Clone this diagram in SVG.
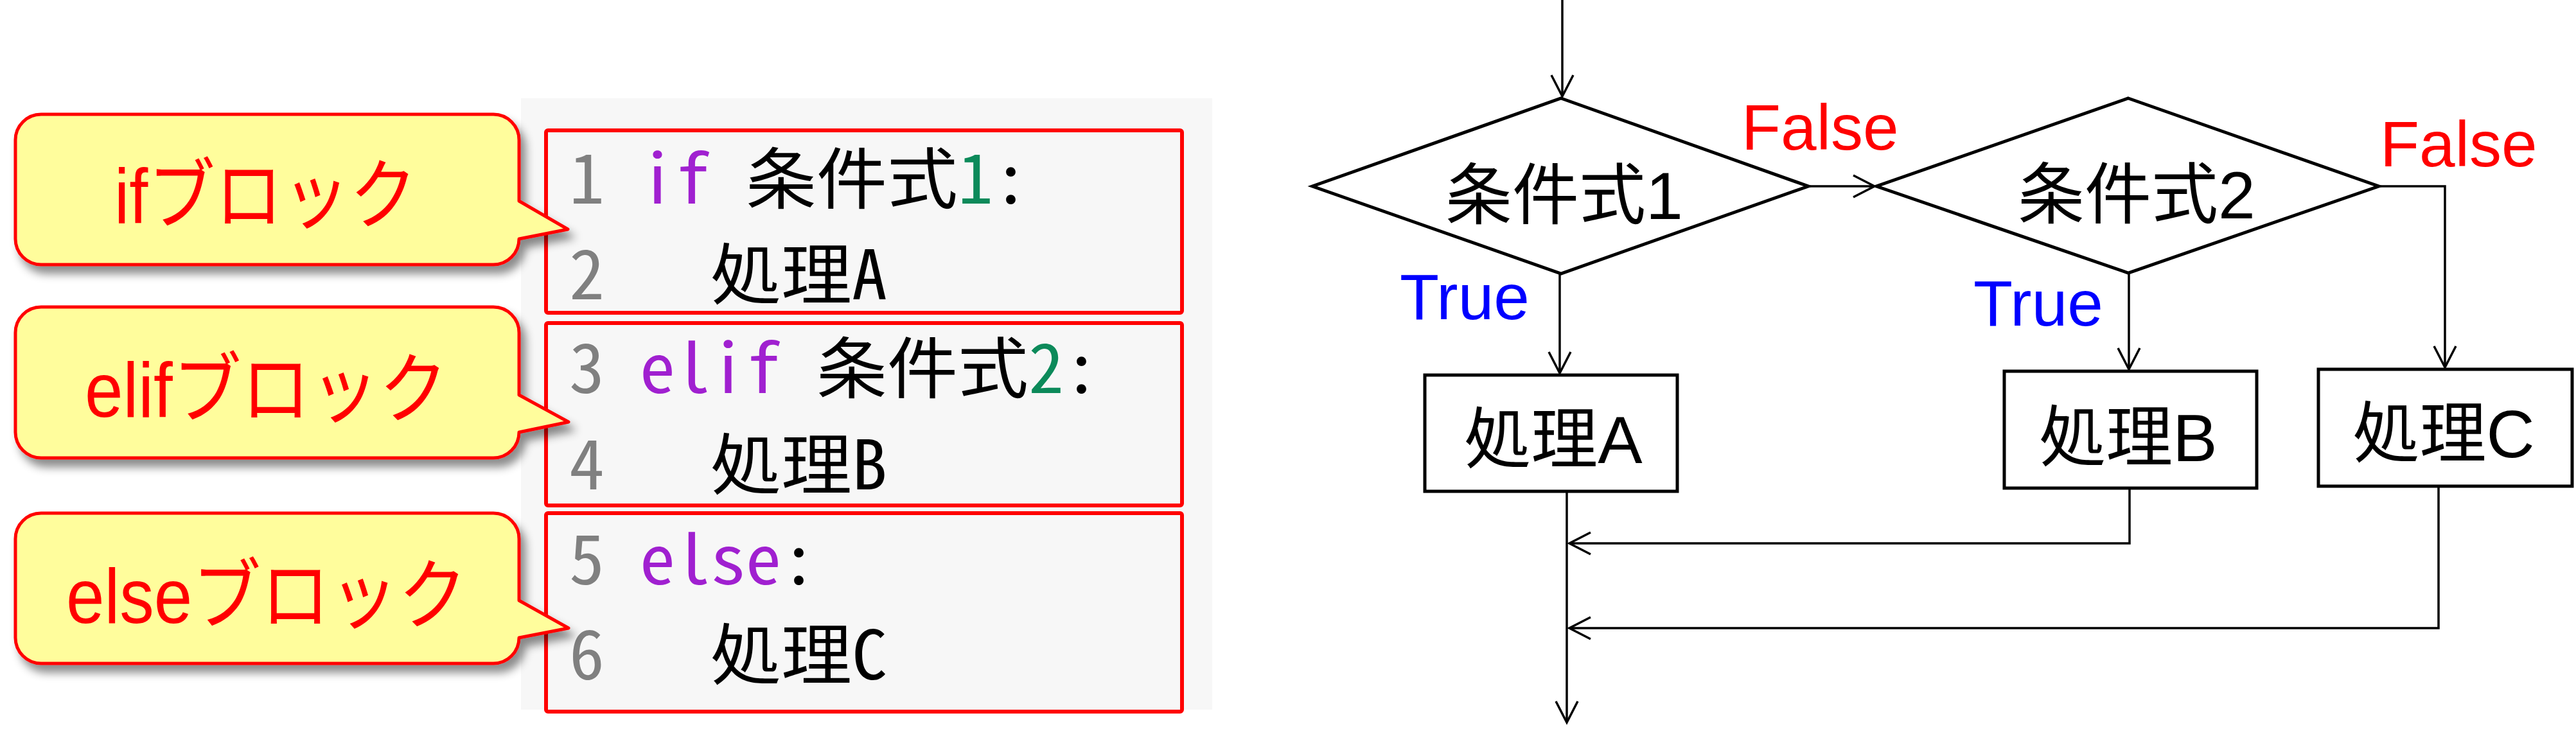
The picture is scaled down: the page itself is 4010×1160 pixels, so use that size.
<svg xmlns="http://www.w3.org/2000/svg" width="4010" height="1160" viewBox="0 0 4010 1160">
<defs>
<style>
.callout{fill:#FFFD9C;stroke:#FF0000;stroke-width:5;stroke-linejoin:round;filter:url(#shadow)}
.ctext{font-family:"Liberation Sans","Noto Sans CJK JP",sans-serif;font-size:120px;fill:#FF0000}
.panel{fill:#F7F7F7}
.cbox{fill:none;stroke:#FF0000;stroke-width:6}
.mono{font-family:"Noto Sans Mono CJK JP","DejaVu Sans Mono",monospace;font-size:106px}
.cj{font-family:"Noto Sans Mono CJK JP","Noto Sans CJK JP",sans-serif;font-size:104px;fill:#000}
.ln{fill:#808080}
.kw{fill:#A020D0}
.num{fill:#0C8A5A}
.blk{fill:#000}
.shape{fill:#FFFFFF;stroke:#000;stroke-width:5}
.ftext{font-family:"Liberation Sans","Noto Sans CJK JP",sans-serif;font-size:104px;fill:#000;text-anchor:middle}
.lbl{font-family:"Liberation Sans",sans-serif;font-size:100px}
.f{fill:#FF0000}
.t{fill:#0000FF}
.conn{fill:none;stroke:#000;stroke-width:3.5;marker-end:url(#arr)}
</style>
<filter id="shadow" x="-10%" y="-10%" width="130%" height="140%">
<feDropShadow dx="8" dy="12" stdDeviation="7" flood-color="#000" flood-opacity="0.45"/>
</filter>
<marker id="arr" markerUnits="userSpaceOnUse" markerWidth="40" markerHeight="40" viewBox="0 0 40 40" refX="36" refY="20" orient="auto">
<path d="M3,3 L36,20 L3,37" fill="none" stroke="#000" stroke-width="3.5"/>
</marker>
</defs>
<rect width="4010" height="1160" fill="#FFFFFF"/>

<!-- code panel -->
<g id="code">
<rect class="panel" x="811" y="153" width="1076" height="952"/>
<text class="mono ln" x="886" y="317" textLength="55" lengthAdjust="spacingAndGlyphs">1</text>
<text class="mono kw" x="996" y="317" textLength="110" lengthAdjust="spacingAndGlyphs">if</text>
<text class="cj" x="1161" y="317" textLength="330" lengthAdjust="spacingAndGlyphs">条件式</text>
<text class="mono num" x="1491" y="317" textLength="55" lengthAdjust="spacingAndGlyphs">1</text>
<text class="mono blk" x="1546" y="317" textLength="55" lengthAdjust="spacingAndGlyphs">:</text>

<text class="mono ln" x="886" y="466" textLength="55" lengthAdjust="spacingAndGlyphs">2</text>
<text class="cj" x="1106" y="466" textLength="220" lengthAdjust="spacingAndGlyphs">処理</text>
<text class="mono blk" x="1326" y="466" textLength="55" lengthAdjust="spacingAndGlyphs">A</text>

<text class="mono ln" x="886" y="612" textLength="55" lengthAdjust="spacingAndGlyphs">3</text>
<text class="mono kw" x="996" y="612" textLength="220" lengthAdjust="spacingAndGlyphs">elif</text>
<text class="cj" x="1271" y="612" textLength="330" lengthAdjust="spacingAndGlyphs">条件式</text>
<text class="mono num" x="1601" y="612" textLength="55" lengthAdjust="spacingAndGlyphs">2</text>
<text class="mono blk" x="1656" y="612" textLength="55" lengthAdjust="spacingAndGlyphs">:</text>

<text class="mono ln" x="886" y="762" textLength="55" lengthAdjust="spacingAndGlyphs">4</text>
<text class="cj" x="1106" y="762" textLength="220" lengthAdjust="spacingAndGlyphs">処理</text>
<text class="mono blk" x="1326" y="762" textLength="55" lengthAdjust="spacingAndGlyphs">B</text>

<text class="mono ln" x="886" y="910" textLength="55" lengthAdjust="spacingAndGlyphs">5</text>
<text class="mono kw" x="996" y="910" textLength="220" lengthAdjust="spacingAndGlyphs">else</text>
<text class="mono blk" x="1216" y="910" textLength="55" lengthAdjust="spacingAndGlyphs">:</text>

<text class="mono ln" x="886" y="1058" textLength="55" lengthAdjust="spacingAndGlyphs">6</text>
<text class="cj" x="1106" y="1058" textLength="220" lengthAdjust="spacingAndGlyphs">処理</text>
<text class="mono blk" x="1326" y="1058" textLength="55" lengthAdjust="spacingAndGlyphs">C</text>

<rect class="cbox" x="850" y="203" width="990" height="284" rx="3"/>
<rect class="cbox" x="850" y="503" width="990" height="284" rx="3"/>
<rect class="cbox" x="850" y="799" width="990" height="309" rx="3"/>
</g>

<!-- callouts (drawn above the code panel so their pointers overlap it) -->
<g id="callout-if">
<path class="callout" d="M64,178 H768 A40,40 0 0 1 808,218 V313 L884,357 L808,372 A40,40 0 0 1 768,412 H64 A40,40 0 0 1 24,372 V218 A40,40 0 0 1 64,178 Z"/>
<text class="ctext" x="178" y="347" textLength="471" lengthAdjust="spacingAndGlyphs">ifブロック</text>
</g>
<g id="callout-elif">
<path class="callout" d="M64,478 H768 A40,40 0 0 1 808,518 V615 L885,657 L808,673 A40,40 0 0 1 768,713 H64 A40,40 0 0 1 24,673 V518 A40,40 0 0 1 64,478 Z"/>
<text class="ctext" x="132" y="649" textLength="565" lengthAdjust="spacingAndGlyphs">elifブロック</text>
</g>
<g id="callout-else">
<path class="callout" d="M64,799 H768 A40,40 0 0 1 808,839 V935 L885,978 L808,993 A40,40 0 0 1 768,1033 H64 A40,40 0 0 1 24,993 V839 A40,40 0 0 1 64,799 Z"/>
<text class="ctext" x="103" y="970" textLength="624" lengthAdjust="spacingAndGlyphs">elseブロック</text>
</g>

<!-- flowchart nodes -->
<g id="cond1">
<polygon class="shape" points="2430,153 2815,290 2430,426 2043,290"/>
<text class="ftext" x="2435" y="341">条件式1</text>
</g>
<g id="cond2">
<polygon class="shape" points="3313,153 3703,290 3313,425 2921,290"/>
<text class="ftext" x="3326" y="340">条件式2</text>
</g>
<g id="procA">
<rect class="shape" x="2218" y="584" width="393" height="181"/>
<text class="ftext" x="2418" y="721">処理A</text>
</g>
<g id="procB">
<rect class="shape" x="3120" y="578" width="393" height="182"/>
<text class="ftext" x="3313" y="718">処理B</text>
</g>
<g id="procC">
<rect class="shape" x="3609" y="575" width="395" height="182"/>
<text class="ftext" x="3804" y="712">処理C</text>
</g>

<!-- connectors -->
<g id="connectors">
<path class="conn" d="M2432,0 V150"/>
<path class="conn" d="M2815,290 H2918"/>
<path class="conn" d="M2428,426 V581"/>
<path class="conn" d="M3314,425 V575"/>
<path class="conn" d="M3703,290 H3806 V572"/>
<path class="conn" d="M2439,765 V1125"/>
<path class="conn" d="M3315,760 V846 H2443"/>
<path class="conn" d="M3796,757 V978 H2443"/>
<text class="lbl f" x="2711" y="233">False</text>
<text class="lbl f" x="3705" y="259">False</text>
<text class="lbl t" x="2179" y="497">True</text>
<text class="lbl t" x="3072" y="507">True</text>
</g>
</svg>
